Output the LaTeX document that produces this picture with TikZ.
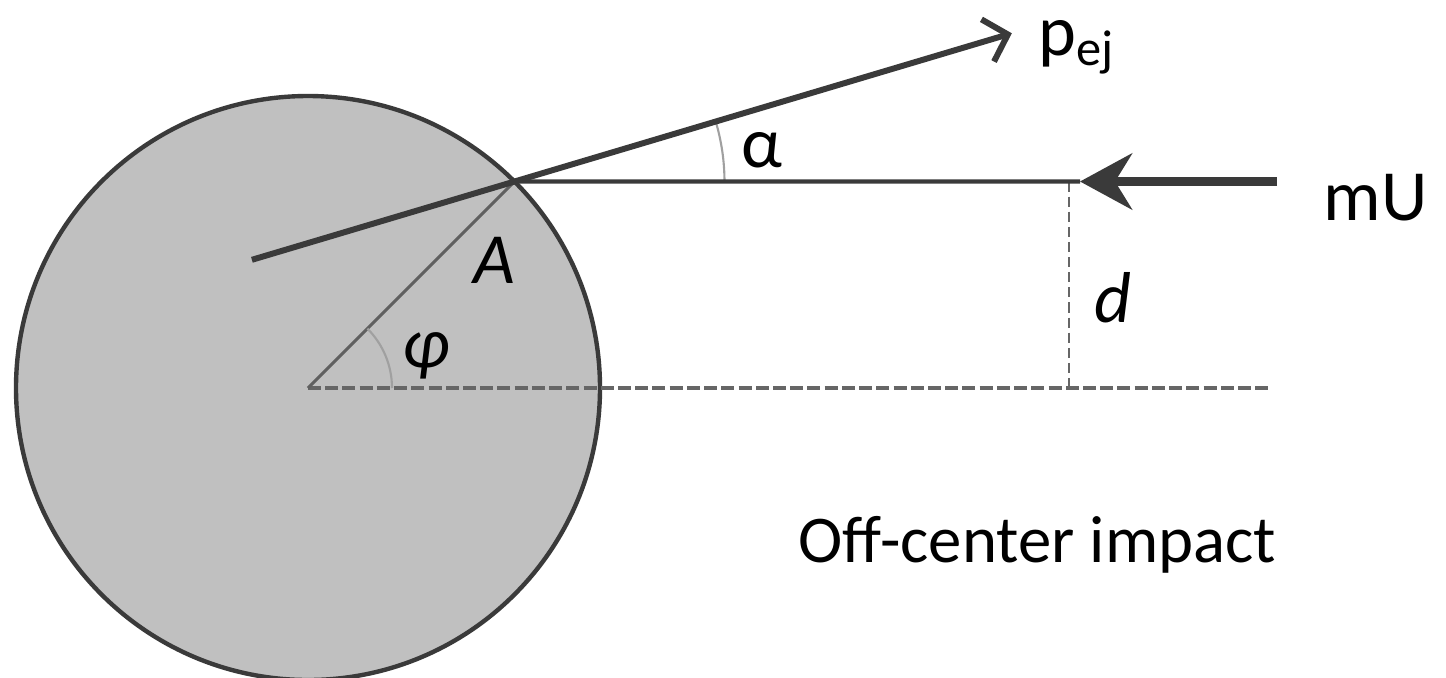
\documentclass[tikz,border=0pt]{standalone}
\usepackage{fontspec}
\setmainfont{Carlito}
\usetikzlibrary{
  arrows.meta,
  calc,
  positioning
}
\definecolor{linegray}{RGB}{58,58,58}
\definecolor{ballgray}{RGB}{192,192,192}
\definecolor{arcgray}{RGB}{160,160,160}
\tikzset{
  line cap=round,
  line join=round,
  ball/.style={draw=linegray, fill=ballgray, line width=1.25pt},
  jetline/.style={draw=linegray, line width=1.7pt},
  thinline/.style={draw=linegray, line width=1.2pt},
  radline/.style={draw=gray!75!black, line width=0.85pt},
  guide/.style={draw=gray!80!black, line width=1pt, dash pattern=on 3.7pt off 1.2pt, line cap=butt},
  vguide/.style={draw=gray!80!black, line width=0.75pt, dash pattern=on 2.9pt off 1.4pt, line cap=butt},
  anglearc/.style={draw=arcgray, line width=0.6pt},
  lbl/.style={font=\fontsize{20.5}{24}\selectfont, inner sep=0pt}
}

\begin{document}
\begin{tikzpicture}[x=10mm,y=10mm]
    \useasboundingbox (0,0) rectangle (14.46,6.77);

		\coordinate (O) at(3.08,2.89);
		\coordinate (A) at($(O)+(45:2.92)$);
		\coordinate (E0) at($(A)+(196.6:2.74)$);
		\coordinate (P) at($(A)+(16.6:5.19)$);
		\coordinate (T) at(10.80,4.955);
		\coordinate (U) at(12.77,4.955);
		\coordinate (D1) at(10.69,4.955);
		\coordinate (D2) at(10.69,2.89);
		\coordinate (H) at(12.68,2.89);

    % ball
		\draw[ball] (O) circle (2.92);

		\draw[guide] (O)--(H);
		\draw[vguide] (D1)--(D2);
		\draw[radline] (O)--(A);

    \draw[anglearc] ($(O)+(0:0.84)$) arc (0:45:0.84);
    \draw[anglearc] ($(A)+(0:2.1)$) arc (0:16.6:2.1);

		\draw[thinline] (A)--(T);
		\draw[draw=linegray, line width=2.6pt, line cap=butt, -{Stealth[length=5.2mm,width=5.6mm,inset=1.7mm]}] (U)--(T);
		\draw[jetline, -{Straight Barb[length=2.1mm,width=4.4mm]}] (E0)--(P);

    \node[lbl, anchor=base west] (pej) at(10.38,6.22) {p\textsubscript{ej}};
		\node[lbl] (alpha) at(7.62,5.27) {α};
		\node[lbl, anchor=base west] (mU) at(13.23,4.57) {mU};
		\node[lbl, anchor=base] (Alab) at(4.94,3.94) {\textit{A}};
		\node[lbl, anchor=base] (dlab) at(11.13,3.55) {\textit{d}};
		\node[lbl] (philab) at(4.26,3.21) {\textit{φ}};
		\node[lbl, font=\fontsize{19}{23}\selectfont, anchor=base west] (title) at(7.98,1.15) {Off-center impact};
	\end{tikzpicture}
\end{document}
